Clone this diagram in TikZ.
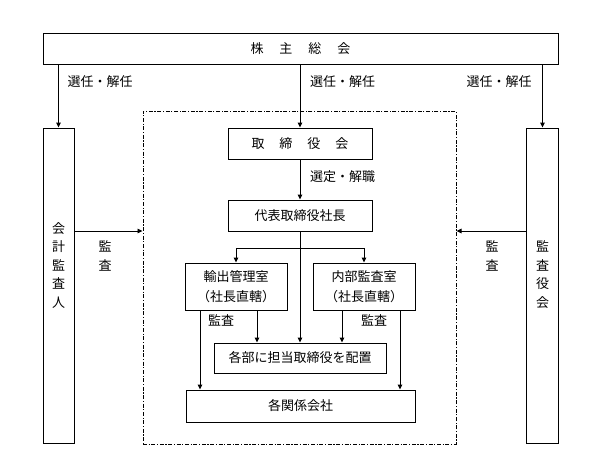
\documentclass[tikz,border=0pt]{standalone}
\usepackage{fontspec}
\setmainfont{Noto Sans CJK JP}
\usetikzlibrary{arrows.meta}
\begin{document}
\begin{tikzpicture}[x=1pt,y=-1pt,
  box/.style={draw,line width=0.9pt,rectangle,inner sep=0pt,font=\fontsize{13}{15}\selectfont},
  conn/.style={line width=0.9pt,-{Triangle[length=5pt,width=4.5pt]}},
  plain/.style={line width=0.9pt},
  lbl/.style={inner sep=0pt,font=\fontsize{13}{15}\selectfont},
  vlbl/.style={inner sep=0pt,align=center,font=\fontsize{13}{18.5}\selectfont},
  grpbox/.style={draw,line width=1pt,inner sep=0pt,dash pattern=on 4pt off 1.6pt on 1.2pt off 1.6pt}]
\useasboundingbox (0,0) rectangle (600,472);
% group frame
\node[grpbox,minimum width=313pt,minimum height=333pt] (grp) at (299.5,277.5) {};
% boxes
\node[box,minimum width=515pt,minimum height=31pt] (top) at (300.5,48.5) {株\hspace{16pt}主\hspace{16pt}総\hspace{16pt}会};
\node[box,minimum width=31pt,minimum height=315pt] (kaikei) at (58.5,285.5) {};
\node[vlbl] (kaikeit) at (58.5,265.5) {会\\計\\監\\査\\人};
\node[box,minimum width=32pt,minimum height=315pt] (kansa) at (542.5,285.5) {};
\node[vlbl] (kansat) at (542.5,274.5) {監\\査\\役\\会};
\node[box,minimum width=144pt,minimum height=31pt] (tori) at (300,143.5) {取\hspace{15pt}締\hspace{15pt}役\hspace{15pt}会};
\node[box,minimum width=144pt,minimum height=31pt] (daihyo) at (300,215.5) {代表取締役社長};
\node[box,minimum width=102pt,minimum height=47pt,align=center,font=\fontsize{13}{20}\selectfont] (yushutsu) at (236,286.5) {輸出管理室\\（社長直轄）};
\node[box,minimum width=102pt,minimum height=47pt,align=center,font=\fontsize{13}{20}\selectfont] (naibu) at (364,286.5) {内部監査室\\（社長直轄）};
\node[box,minimum width=172pt,minimum height=30pt] (kakubu) at (300,358) {各部に担当取締役を配置};
\node[box,minimum width=229pt,minimum height=32pt] (kankei) at (300.5,406) {各関係会社};
% labels
\node[lbl] (l1) at (100,82) {選任・解任};
\node[lbl] (l2) at (342.5,82) {選任・解任};
\node[lbl] (l3) at (499,82) {選任・解任};
\node[lbl] (l4) at (342.5,177) {選定・解職};
\node[vlbl] (l5) at (105,256) {監\\査};
\node[vlbl] (l6) at (492,256) {監\\査};
\node[lbl] (l7) at (221,320) {監査};
\node[lbl] (l8) at (374,320) {監査};
% connectors
\draw[conn] (top.south -| kaikei.north) -- (kaikei.north);
\draw[conn] (top.south -| tori.north) -- (tori.north);
\draw[conn] (top.south -| kansa.north) -- (kansa.north);
\draw[conn] (tori.south) -- (daihyo.north);
\draw[conn] (kaikei.east |- 0,231) -- (grp.west |- 0,231);
\draw[conn] (kansa.west |- 0,231) -- (grp.east |- 0,231);
\draw[conn] (daihyo.south) -- (kakubu.north);
\coordinate (bl) at (236,248);
\coordinate (br) at (364,248);
\draw[plain] (bl) -- (br);
\draw[conn] (bl) -- (yushutsu.north);
\draw[conn] (br) -- (naibu.north);
\draw[conn] (yushutsu.south -| 257,0) -- (kakubu.north -| 257,0);
\draw[conn] (naibu.south -| 342,0) -- (kakubu.north -| 342,0);
\draw[conn] (yushutsu.south -| 200,0) -- (kankei.north -| 200,0);
\draw[conn] (naibu.south -| 400,0) -- (kankei.north -| 400,0);
\end{tikzpicture}
\end{document}
